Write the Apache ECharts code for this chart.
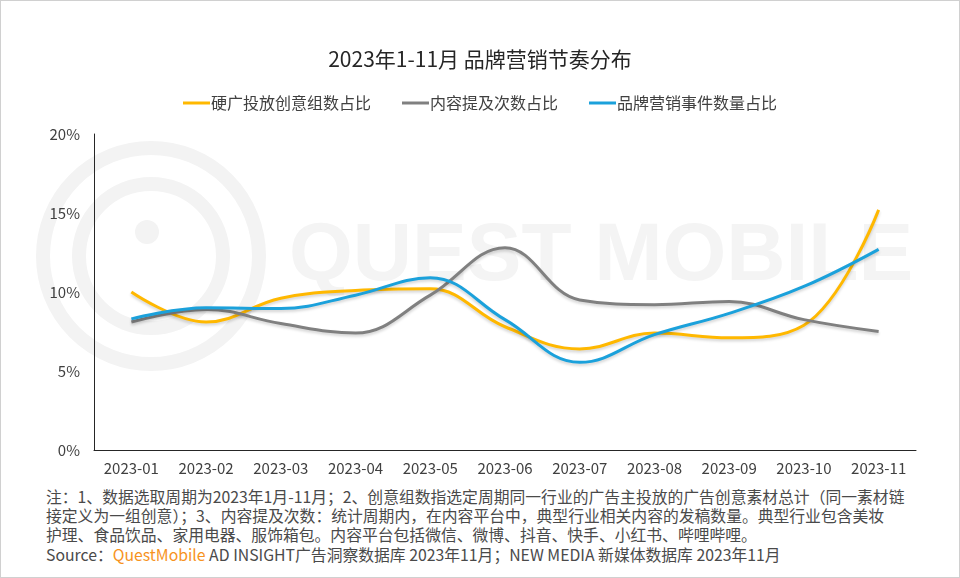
<!DOCTYPE html>
<html><head><meta charset="utf-8">
<script src="https://cdn.jsdelivr.net/npm/echarts@6/dist/echarts.min.js"></script>
<style>
html,body{margin:0;padding:0;background:#fff;}
#wrap{position:relative;width:958px;height:576px;border:1px solid #d0d0d0;overflow:hidden;}
#chart{position:absolute;left:0;top:0;width:958px;height:480px;}
#note{position:absolute;left:45px;top:486px;font-family:"Noto Sans CJK SC","Noto Sans",sans-serif;font-size:15.8px;line-height:19.2px;color:#4a4a4a;white-space:nowrap;}
#note .qm{color:#f7931e;}
</style></head>
<body>
<div id="wrap"><div id="chart"></div>
<div id="note">注：1、数据选取周期为2023年1月-11月；2、创意组数指选定周期同一行业的广告主投放的广告创意素材总计（同一素材链<br>接定义为一组创意）；3、内容提及次数：统计周期内，在内容平台中，典型行业相关内容的发稿数量。典型行业包含美妆<br>护理、食品饮品、家用电器、服饰箱包。内容平台包括微信、微博、抖音、快手、小红书、哔哩哔哩。<br>Source：<span class="qm">QuestMobile</span> AD INSIGHT广告洞察数据库 2023年11月；NEW MEDIA 新媒体数据库 2023年11月</div>
</div>
<script>
const categories = ['2023-01','2023-02','2023-03','2023-04','2023-05','2023-06','2023-07','2023-08','2023-09','2023-10','2023-11'];
const seriesNames = ['硬广投放创意组数占比','内容提及次数占比','品牌营销事件数量占比'];
const hardAd = [10.0, 8.1, 9.6, 10.1, 10.2, 7.8, 6.4, 7.4, 7.1, 7.9, 15.2];
const contentMention = [8.1, 8.9, 8.0, 7.4, 9.8, 12.8, 9.5, 9.2, 9.4, 8.25, 7.5];
const brandEvent = [8.3, 9.0, 8.95, 9.8, 10.9, 8.25, 5.55, 7.3, 8.65, 10.35, 12.7];
const yTicks = [0, 5, 10, 15, 20];
const colors = ['#FFB800', '#808080', '#1BA1DB'];

const chart = echarts.init(document.getElementById('chart'));
function mk(name, data, color){
  return {name, type:'line', data, smooth:0.4, symbol:'none',
    lineStyle:{width:3,color, shadowColor:'rgba(0,0,0,0.18)', shadowBlur:3, shadowOffsetY:2},
    itemStyle:{color}};
}
chart.setOption({
  animation:false,
  textStyle:{fontFamily:'"Noto Sans CJK SC","Noto Sans",sans-serif'},
  title:{text:'2023年1-11月 品牌营销节奏分布', left:'center', top:43,
    textStyle:{fontSize:21,fontWeight:'normal',color:'#262626'}},
  legend:{top:89, left:'center', itemWidth:27, itemHeight:3, itemGap:31, icon:'rect',
    textStyle:{fontSize:16,color:'#404040',padding:[0,0,0,-4]}, data:seriesNames},
  graphic:[
    {type:'circle', shape:{cx:150,cy:255,r:108}, style:{fill:'none',stroke:'#f3f3f3',lineWidth:14}, z:-1},
    {type:'circle', shape:{cx:150,cy:255,r:72}, style:{fill:'none',stroke:'#f3f3f3',lineWidth:14}, z:-1},
    {type:'circle', shape:{cx:146,cy:231,r:12}, style:{fill:'#f3f3f3'}, z:-1},
    {type:'text', left:288, top:215, style:{text:'QUEST MOBILE', fontSize:82, fontWeight:'bold', fill:'#f4f4f4', fontFamily:'"Liberation Sans",Arial,sans-serif'}, z:-1}
  ],
  grid:{left:93, right:43, top:133, bottom:31},
  xAxis:{type:'category', data:categories, boundaryGap:true,
    axisLine:{lineStyle:{color:'#262626',width:1}}, axisTick:{show:false},
    axisLabel:{color:'#404040', fontSize:15, margin:11}},
  yAxis:{type:'value', min:yTicks[0], max:yTicks[yTicks.length-1], interval:5,
    axisLine:{show:true,lineStyle:{color:'#262626',width:1}}, axisTick:{show:false}, splitLine:{show:false},
    axisLabel:{color:'#404040', fontSize:15, margin:14, formatter:v=>v+'%'}},
  series:[mk(seriesNames[0],hardAd,colors[0]), mk(seriesNames[1],contentMention,colors[1]), mk(seriesNames[2],brandEvent,colors[2])]
});
</script>
</body></html>
